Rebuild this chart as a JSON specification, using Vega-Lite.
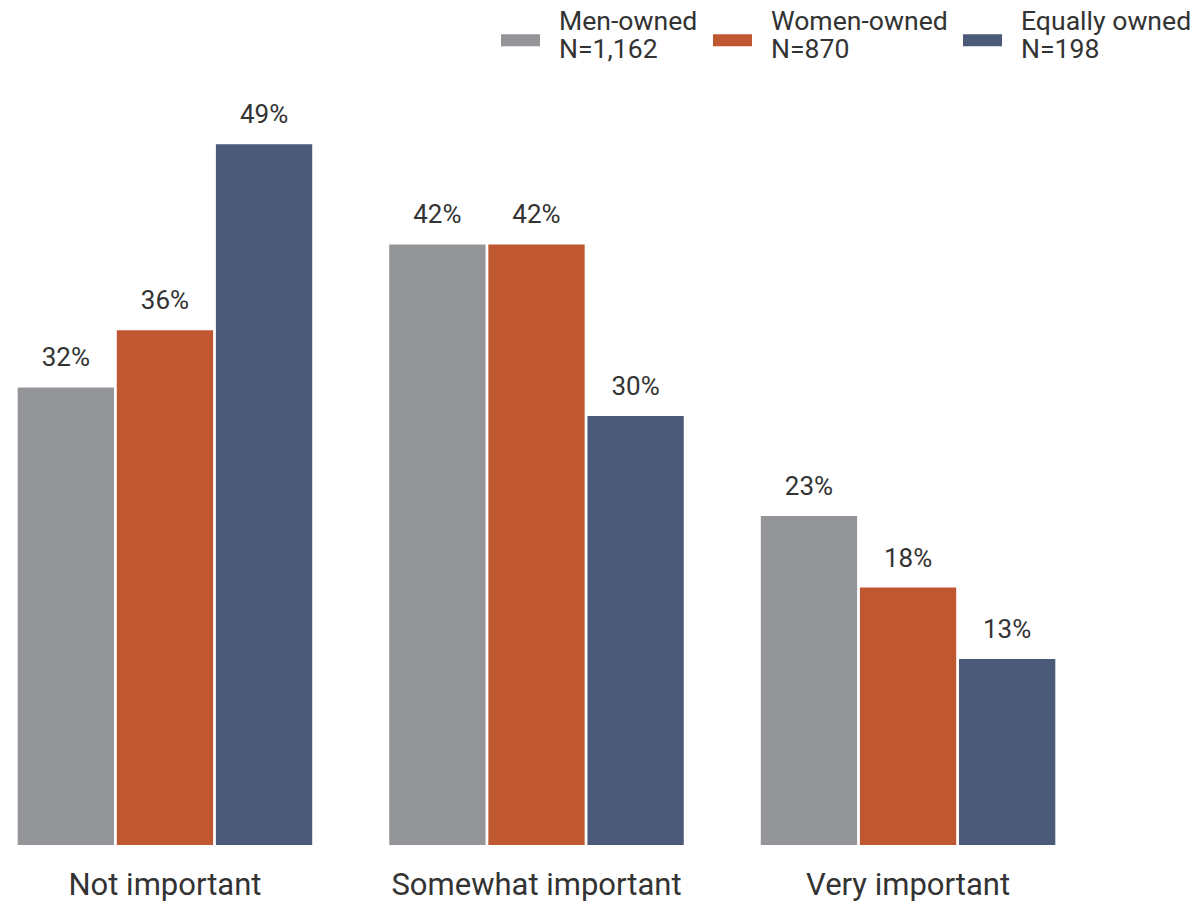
{
  "$schema": "https://vega.github.io/schema/vega-lite/v6.json",
  "width": 1073,
  "height": 715,
  "autosize": {"type": "none"},
  "padding": {"left": 0, "top": 130, "right": 122, "bottom": 56},
  "background": "white",
  "config": {"view": {"stroke": null}, "font": "Roboto"},
  "data": {
    "values": [
      {"category": "Not important", "owner": "Men-owned", "value": 0.32},
      {"category": "Not important", "owner": "Women-owned", "value": 0.36},
      {"category": "Not important", "owner": "Equally owned", "value": 0.49},
      {"category": "Somewhat important", "owner": "Men-owned", "value": 0.42},
      {"category": "Somewhat important", "owner": "Women-owned", "value": 0.42},
      {"category": "Somewhat important", "owner": "Equally owned", "value": 0.30},
      {"category": "Very important", "owner": "Men-owned", "value": 0.23},
      {"category": "Very important", "owner": "Women-owned", "value": 0.18},
      {"category": "Very important", "owner": "Equally owned", "value": 0.13}
    ]
  },
  "encoding": {
    "x": {
      "field": "category",
      "type": "nominal",
      "sort": ["Not important", "Somewhat important", "Very important"],
      "scale": {"paddingInner": 0.2073, "paddingOuter": 0.0476},
      "axis": {
        "title": null,
        "labelAngle": 0,
        "labelFontSize": 31,
        "labelColor": "#333333",
        "labelFont": "Roboto",
        "labelBaseline": "alphabetic",
        "labelPadding": 49,
        "labelLimit": 600,
        "domain": false,
        "ticks": false,
        "tickSize": 0,
        "grid": false
      }
    },
    "xOffset": {
      "field": "owner",
      "type": "nominal",
      "sort": ["Men-owned", "Women-owned", "Equally owned"],
      "scale": {"paddingInner": 0.028, "paddingOuter": 0}
    },
    "y": {
      "field": "value",
      "type": "quantitative",
      "scale": {"domain": [0, 0.5]},
      "axis": null
    }
  },
  "layer": [
    {
      "mark": {"type": "bar"},
      "encoding": {
        "color": {
          "field": "owner",
          "type": "nominal",
          "sort": ["Men-owned", "Women-owned", "Equally owned"],
          "scale": {
            "domain": ["Men-owned", "Women-owned", "Equally owned"],
            "range": ["#939598", "#BF5731", "#4B5A78"]
          },
          "legend": {
            "title": null,
            "orient": "none",
            "direction": "horizontal",
            "legendX": 501,
            "legendY": -128,
            "padding": 0,
            "columnPadding": 15,
            "symbolType": "M-1,0.641H1V1.257H-1Z",
            "symbolSize": 1521,
            "symbolStrokeWidth": 0,
            "symbolOpacity": 1,
            "labelFontSize": 26.6,
            "labelFont": "Roboto",
            "labelColor": "#333333",
            "labelOffset": 19,
            "labelLimit": 400,
            "labelExpr": "datum.label == 'Men-owned' ? ['Men-owned', 'N=1,162'] : datum.label == 'Women-owned' ? ['Women-owned', 'N=870'] : ['Equally owned', 'N=198']"
          }
        }
      }
    },
    {
      "mark": {
        "type": "text",
        "dy": -21,
        "baseline": "alphabetic",
        "fontSize": 26,
        "font": "Roboto",
        "color": "#333333"
      },
      "encoding": {
        "text": {"field": "value", "type": "quantitative", "format": ".0%"}
      }
    }
  ]
}
